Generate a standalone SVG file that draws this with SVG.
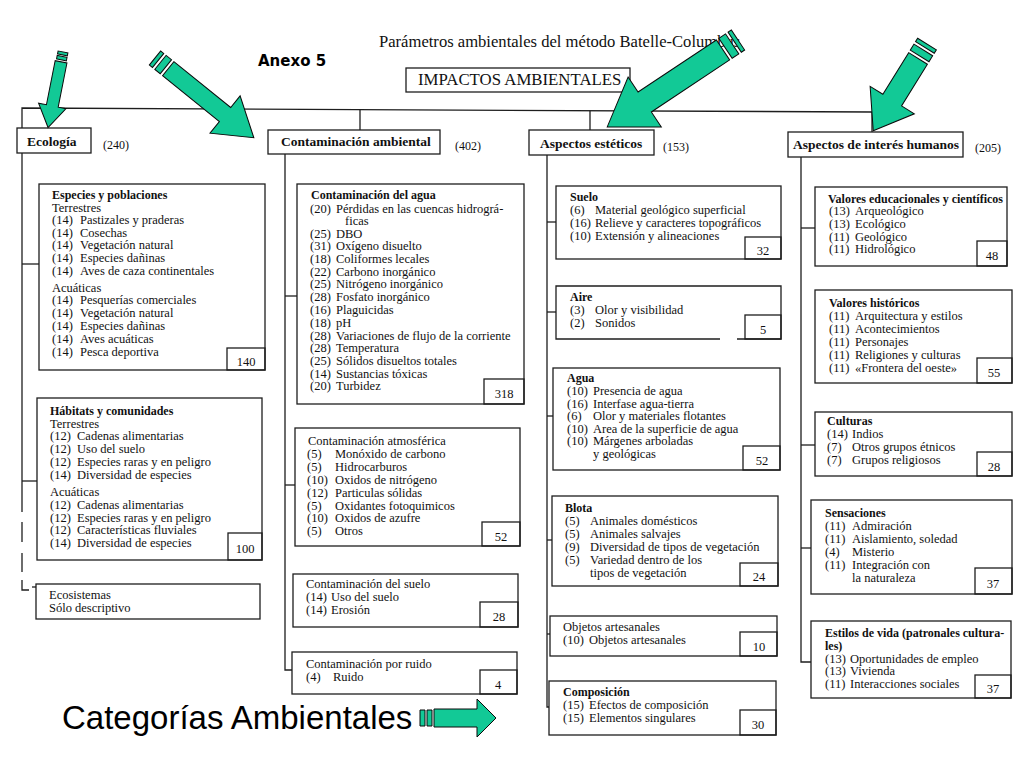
<svg xmlns="http://www.w3.org/2000/svg" width="1024" height="768" viewBox="0 0 1024 768">
<style>
.bg{fill:#fff}
.box{fill:#fff;stroke:#1e1e1e;stroke-width:1.3}
.nb{fill:none;stroke:#1e1e1e;stroke-width:1.3}
.ln{fill:none;stroke:#1e1e1e;stroke-width:1.3}
.t{font-family:"Liberation Serif","Times New Roman",serif;font-size:12.5px;fill:#111}
.b{font-weight:bold;font-size:12px}
.h{font-weight:bold;font-size:13.5px}
.n{text-anchor:middle}
.ar{fill:#12C996;stroke:#0a0a0a;stroke-width:1}
</style>
<rect class="bg" x="0" y="0" width="1024" height="768"/>

<g id="titles">
<text class="t" x="379" y="47" style="font-size:16.6px">Parámetros ambientales del método Batelle-Columbus</text>
<text x="258" y="66" style="font-family:'DejaVu Sans',Verdana,sans-serif;font-weight:bold;font-size:15px;fill:#000">Anexo 5</text>
<text x="62" y="729" style="font-family:'Liberation Sans',Arial,sans-serif;font-size:33px;fill:#000">Categorías Ambientales</text>
</g>

<g id="connectors">
<polyline class="ln" points="22,128 22,108 872,112 872,132"/>
<line class="ln" x1="360" y1="109.6" x2="360" y2="130"/>
<line class="ln" x1="590" y1="110.7" x2="590" y2="130"/>
<line class="ln" x1="22" y1="153" x2="22" y2="512"/>
<line class="ln" x1="22" y1="522" x2="22" y2="542"/>
<line class="ln" x1="22" y1="553" x2="22" y2="572"/>
<polyline class="ln" points="22,580 22,590 29,590"/>
<line class="ln" x1="32" y1="587" x2="37" y2="587"/>
<line class="ln" x1="22" y1="264" x2="39" y2="264"/>
<line class="ln" x1="22" y1="481" x2="37" y2="481"/>
<polyline class="ln" points="285,154 285,670 292,670"/>
<line class="ln" x1="285" y1="296" x2="297" y2="296"/>
<line class="ln" x1="285" y1="485" x2="295" y2="485"/>
<polyline class="ln" points="547,155 547,707 549,707"/>
<line class="ln" x1="547" y1="222" x2="556" y2="222"/>
<line class="ln" x1="547" y1="312" x2="556" y2="312"/>
<line class="ln" x1="547" y1="416" x2="553" y2="416"/>
<line class="ln" x1="547" y1="540" x2="552" y2="540"/>
<line class="ln" x1="547" y1="634" x2="550" y2="634"/>
<polyline class="ln" points="801,157 801,662 811,662"/>
<line class="ln" x1="801" y1="228" x2="815" y2="228"/>
<line class="ln" x1="801" y1="445" x2="815" y2="445"/>
<line class="ln" x1="801" y1="548" x2="811" y2="548"/>
</g>

<g id="impactos">
<rect class="box" x="406" y="68" width="224" height="24"/>
<text class="t" x="418" y="85" style="font-size:16.8px">IMPACTOS AMBIENTALES</text>
</g>

<g id="ecologia">
<rect class="box" x="17" y="128" width="74" height="25"/>
<text class="t h" x="27" y="146">Ecología</text>
<text class="t" x="103" y="149" style="font-size:12px">(240)</text>
</g>
<g id="contaminacion">
<rect class="box" x="268" y="130" width="172" height="24"/>
<text class="t h" x="281" y="146">Contaminación ambiental</text>
<text class="t" x="455" y="150" style="font-size:12px">(402)</text>
</g>
<g id="esteticos">
<rect class="box" x="529" y="130" width="125" height="25"/>
<text class="t h" x="540" y="148">Aspectos estéticos</text>
<text class="t" x="663" y="151" style="font-size:12px">(153)</text>
</g>
<g id="humanos">
<rect class="box" x="788" y="132" width="175" height="25"/>
<text class="t h" x="793" y="149">Aspectos de interés humanos</text>
<text class="t" x="975" y="152" style="font-size:12px">(205)</text>
</g>

<g id="especies">
<rect class="box" x="39" y="184" width="226" height="186"/>
<rect class="nb" x="227" y="348" width="38" height="22"/>
<text class="t n" x="246" y="366">140</text>
<text class="t b" x="52" y="199">Especies y poblaciones</text>
<text class="t" x="52" y="212">Terrestres</text>
<text class="t" y="224"><tspan x="52">(14)</tspan><tspan x="80">Pastizales y praderas</tspan></text>
<text class="t" y="237"><tspan x="52">(14)</tspan><tspan x="80">Cosechas</tspan></text>
<text class="t" y="249"><tspan x="52">(14)</tspan><tspan x="80">Vegetación natural</tspan></text>
<text class="t" y="262"><tspan x="52">(14)</tspan><tspan x="80">Especies dañinas</tspan></text>
<text class="t" y="275"><tspan x="52">(14)</tspan><tspan x="80">Aves de caza continentales</tspan></text>
<text class="t" x="52" y="292">Acuáticas</text>
<text class="t" y="304"><tspan x="52">(14)</tspan><tspan x="80">Pesquerías comerciales</tspan></text>
<text class="t" y="317"><tspan x="52">(14)</tspan><tspan x="80">Vegetación natural</tspan></text>
<text class="t" y="330"><tspan x="52">(14)</tspan><tspan x="80">Especies dañinas</tspan></text>
<text class="t" y="343"><tspan x="52">(14)</tspan><tspan x="80">Aves acuáticas</tspan></text>
<text class="t" y="356"><tspan x="52">(14)</tspan><tspan x="80">Pesca deportiva</tspan></text>
</g>

<g id="habitats">
<rect class="box" x="37" y="398" width="225" height="162"/>
<rect class="nb" x="228" y="533" width="34" height="27"/>
<text class="t n" x="245" y="553">100</text>
<text class="t b" x="50" y="415">Hábitats y comunidades</text>
<text class="t" x="50" y="428">Terrestres</text>
<text class="t" y="440"><tspan x="50">(12)</tspan><tspan x="77">Cadenas alimentarias</tspan></text>
<text class="t" y="453"><tspan x="50">(12)</tspan><tspan x="77">Uso del suelo</tspan></text>
<text class="t" y="466"><tspan x="50">(12)</tspan><tspan x="77">Especies raras y en peligro</tspan></text>
<text class="t" y="479"><tspan x="50">(14)</tspan><tspan x="77">Diversidad de especies</tspan></text>
<text class="t" x="50" y="496">Acuáticas</text>
<text class="t" y="509"><tspan x="50">(12)</tspan><tspan x="77">Cadenas alimentarias</tspan></text>
<text class="t" y="522"><tspan x="50">(12)</tspan><tspan x="77">Especies raras y en peligro</tspan></text>
<text class="t" y="534"><tspan x="50">(12)</tspan><tspan x="77">Características fluviales</tspan></text>
<text class="t" y="547"><tspan x="50">(14)</tspan><tspan x="77">Diversidad de especies</tspan></text>
</g>

<g id="ecosistemas">
<rect class="box" x="36" y="584" width="224" height="35"/>
<text class="t" x="49" y="599">Ecosistemas</text>
<text class="t" x="49" y="612">Sólo descriptivo</text>
</g>

<g id="agua-cont">
<rect class="box" x="297" y="184" width="227" height="220"/>
<rect class="nb" x="484" y="379" width="40" height="25"/>
<text class="t n" x="504" y="398">318</text>
<text class="t b" x="311" y="199">Contaminación del agua</text>
<text class="t" y="213"><tspan x="310">(20)</tspan><tspan x="336">Pérdidas en las cuencas hidrográ-</tspan></text>
<text class="t" x="345" y="225">ficas</text>
<text class="t" y="238"><tspan x="310">(25)</tspan><tspan x="336">DBO</tspan></text>
<text class="t" y="250"><tspan x="310">(31)</tspan><tspan x="336">Oxígeno disuelto</tspan></text>
<text class="t" y="263"><tspan x="310">(18)</tspan><tspan x="336">Coliformes lecales</tspan></text>
<text class="t" y="276"><tspan x="310">(22)</tspan><tspan x="336">Carbono inorgánico</tspan></text>
<text class="t" y="288"><tspan x="310">(25)</tspan><tspan x="336">Nitrógeno inorgánico</tspan></text>
<text class="t" y="301"><tspan x="310">(28)</tspan><tspan x="336">Fosfato inorgánico</tspan></text>
<text class="t" y="314"><tspan x="310">(16)</tspan><tspan x="336">Plaguicidas</tspan></text>
<text class="t" y="327"><tspan x="310">(18)</tspan><tspan x="336">pH</tspan></text>
<text class="t" y="340"><tspan x="310">(28)</tspan><tspan x="336">Variaciones de flujo de la corriente</tspan></text>
<text class="t" y="352"><tspan x="310">(28)</tspan><tspan x="336">Temperatura</tspan></text>
<text class="t" y="365"><tspan x="310">(25)</tspan><tspan x="336">Sólidos disueltos totales</tspan></text>
<text class="t" y="378"><tspan x="310">(14)</tspan><tspan x="336">Sustancias tóxicas</tspan></text>
<text class="t" y="390"><tspan x="310">(20)</tspan><tspan x="336">Turbidez</tspan></text>
</g>

<g id="atmosferica">
<rect class="box" x="295" y="428" width="225" height="118"/>
<rect class="nb" x="482" y="522" width="38" height="24"/>
<text class="t n" x="501" y="541">52</text>
<text class="t" x="308" y="445">Contaminación atmosférica</text>
<text class="t" y="458"><tspan x="307">(5)</tspan><tspan x="335">Monóxido de carbono</tspan></text>
<text class="t" y="471"><tspan x="307">(5)</tspan><tspan x="335">Hidrocarburos</tspan></text>
<text class="t" y="484"><tspan x="307">(10)</tspan><tspan x="335">Oxidos de nitrógeno</tspan></text>
<text class="t" y="497"><tspan x="307">(12)</tspan><tspan x="335">Particulas sólidas</tspan></text>
<text class="t" y="510"><tspan x="307">(5)</tspan><tspan x="335">Oxidantes fotoquimicos</tspan></text>
<text class="t" y="522"><tspan x="307">(10)</tspan><tspan x="335">Oxidos de azufre</tspan></text>
<text class="t" y="535"><tspan x="307">(5)</tspan><tspan x="335">Otros</tspan></text>
</g>

<g id="suelo-cont">
<rect class="box" x="293" y="574" width="225" height="53"/>
<rect class="nb" x="480" y="602" width="38" height="25"/>
<text class="t n" x="499" y="621">28</text>
<text class="t" x="306" y="588">Contaminación del suelo</text>
<text class="t" y="601"><tspan x="306">(14)</tspan><tspan x="331">Uso del suelo</tspan></text>
<text class="t" y="614"><tspan x="306">(14)</tspan><tspan x="331">Erosión</tspan></text>
</g>

<g id="ruido">
<rect class="box" x="292" y="652" width="225" height="42"/>
<rect class="nb" x="480" y="670" width="37" height="24"/>
<text class="t n" x="498" y="689">4</text>
<text class="t" x="306" y="668">Contaminación por ruido</text>
<text class="t" y="681"><tspan x="306">(4)</tspan><tspan x="333">Ruido</tspan></text>
</g>

<g id="suelo-est">
<rect class="box" x="556" y="186" width="225" height="73"/>
<rect class="nb" x="745" y="237" width="36" height="22"/>
<text class="t n" x="763" y="255">32</text>
<text class="t b" x="570" y="201">Suelo</text>
<text class="t" y="214"><tspan x="570">(6)</tspan><tspan x="595">Material geológico superficial</tspan></text>
<text class="t" y="227"><tspan x="570">(16)</tspan><tspan x="595">Relieve y caracteres topográficos</tspan></text>
<text class="t" y="240"><tspan x="570">(10)</tspan><tspan x="595">Extensión y alineaciones</tspan></text>
</g>

<g id="aire">
<polyline class="ln" points="720,339 556,339 556,286 781,286 781,339 737,339"/>
<rect class="nb" x="745" y="315" width="36" height="24"/>
<text class="t n" x="763" y="334">5</text>
<text class="t b" x="570" y="301">Aire</text>
<text class="t" y="314"><tspan x="570">(3)</tspan><tspan x="595">Olor y visibilidad</tspan></text>
<text class="t" y="327"><tspan x="570">(2)</tspan><tspan x="595">Sonidos</tspan></text>
</g>

<g id="agua-est">
<rect class="box" x="553" y="368" width="227" height="102"/>
<rect class="nb" x="743" y="446" width="37" height="24"/>
<text class="t n" x="762" y="465">52</text>
<text class="t b" x="567" y="382">Agua</text>
<text class="t" y="395"><tspan x="567">(10)</tspan><tspan x="593">Presencia de agua</tspan></text>
<text class="t" y="408"><tspan x="567">(16)</tspan><tspan x="593">Interfase agua-tierra</tspan></text>
<text class="t" y="420"><tspan x="567">(6)</tspan><tspan x="593">Olor y materiales flotantes</tspan></text>
<text class="t" y="433"><tspan x="567">(10)</tspan><tspan x="593">Area de la superficie de agua</tspan></text>
<text class="t" y="445"><tspan x="567">(10)</tspan><tspan x="593">Márgenes arboladas</tspan></text>
<text class="t" x="593" y="458">y geológicas</text>
</g>

<g id="biota">
<rect class="box" x="552" y="496" width="226" height="90"/>
<rect class="nb" x="740" y="563" width="38" height="23"/>
<text class="t n" x="759" y="581">24</text>
<text class="t b" x="565" y="512">Blota</text>
<text class="t" y="525"><tspan x="565">(5)</tspan><tspan x="590">Animales domésticos</tspan></text>
<text class="t" y="538"><tspan x="565">(5)</tspan><tspan x="590">Animales salvajes</tspan></text>
<text class="t" y="551"><tspan x="565">(9)</tspan><tspan x="590">Diversidad de tipos de vegetación</tspan></text>
<text class="t" y="564"><tspan x="565">(5)</tspan><tspan x="590">Variedad dentro de los</tspan></text>
<text class="t" x="590" y="577">tipos de vegetación</text>
</g>

<g id="objetos">
<rect class="box" x="550" y="616" width="227" height="40"/>
<rect class="nb" x="740" y="632" width="37" height="24"/>
<text class="t n" x="759" y="651">10</text>
<text class="t" x="563" y="631">Objetos artesanales</text>
<text class="t" y="644"><tspan x="563">(10)</tspan><tspan x="589">Objetos artesanales</tspan></text>
</g>

<g id="composicion">
<rect class="box" x="549" y="681" width="227" height="54"/>
<rect class="nb" x="740" y="710" width="36" height="25"/>
<text class="t n" x="758" y="729">30</text>
<text class="t b" x="563" y="696">Composición</text>
<text class="t" y="709"><tspan x="563">(15)</tspan><tspan x="589">Efectos de composición</tspan></text>
<text class="t" y="722"><tspan x="563">(15)</tspan><tspan x="589">Elementos singulares</tspan></text>
</g>

<g id="educacionales">
<rect class="box" x="815" y="187" width="192" height="79"/>
<rect class="nb" x="977" y="241" width="30" height="25"/>
<text class="t n" x="992" y="260">48</text>
<text class="t b" x="828" y="203">Valores educacionales y científicos</text>
<text class="t" y="215"><tspan x="829">(13)</tspan><tspan x="855">Arqueológico</tspan></text>
<text class="t" y="228"><tspan x="829">(13)</tspan><tspan x="855">Ecológico</tspan></text>
<text class="t" y="241"><tspan x="829">(11)</tspan><tspan x="855">Geológico</tspan></text>
<text class="t" y="253"><tspan x="829">(11)</tspan><tspan x="855">Hidrológico</tspan></text>
</g>

<g id="historicos">
<rect class="box" x="815" y="290" width="197" height="93"/>
<rect class="nb" x="977" y="358" width="35" height="25"/>
<text class="t n" x="994" y="377">55</text>
<text class="t b" x="829" y="307">Valores históricos</text>
<text class="t" y="320"><tspan x="829">(11)</tspan><tspan x="855">Arquitectura y estilos</tspan></text>
<text class="t" y="333"><tspan x="829">(11)</tspan><tspan x="855">Acontecimientos</tspan></text>
<text class="t" y="346"><tspan x="829">(11)</tspan><tspan x="855">Personajes</tspan></text>
<text class="t" y="359"><tspan x="829">(11)</tspan><tspan x="855">Religiones y culturas</tspan></text>
<text class="t" y="372"><tspan x="829">(11)</tspan><tspan x="855">«Frontera del oeste»</tspan></text>
</g>

<g id="culturas">
<rect class="box" x="815" y="412" width="197" height="64"/>
<rect class="nb" x="977" y="452" width="35" height="24"/>
<text class="t n" x="994" y="471">28</text>
<text class="t b" x="827" y="425">Culturas</text>
<text class="t" y="438"><tspan x="827">(14)</tspan><tspan x="852">Indios</tspan></text>
<text class="t" y="451"><tspan x="827">(7)</tspan><tspan x="852">Otros grupos étnicos</tspan></text>
<text class="t" y="464"><tspan x="827">(7)</tspan><tspan x="852">Grupos religiosos</tspan></text>
</g>

<g id="sensaciones">
<rect class="box" x="811" y="500" width="201" height="94"/>
<rect class="nb" x="975" y="568" width="37" height="26"/>
<text class="t n" x="993" y="588">37</text>
<text class="t b" x="825" y="517">Sensaciones</text>
<text class="t" y="530"><tspan x="825">(11)</tspan><tspan x="852">Admiración</tspan></text>
<text class="t" y="543"><tspan x="825">(11)</tspan><tspan x="852">Aislamiento, soledad</tspan></text>
<text class="t" y="556"><tspan x="825">(4)</tspan><tspan x="852">Misterio</tspan></text>
<text class="t" y="569"><tspan x="825">(11)</tspan><tspan x="852">Integración con</tspan></text>
<text class="t" x="852" y="582">la naturaleza</text>
</g>

<g id="estilos">
<rect class="box" x="811" y="621" width="200" height="77"/>
<rect class="nb" x="975" y="675" width="36" height="23"/>
<text class="t n" x="993" y="693">37</text>
<text class="t b" x="825" y="637">Estilos de vida (patronales cultura-</text>
<text class="t b" x="825" y="650">les)</text>
<text class="t" y="663"><tspan x="825">(13)</tspan><tspan x="850">Oportunidades de empleo</tspan></text>
<text class="t" y="675"><tspan x="825">(13)</tspan><tspan x="850">Vivienda</tspan></text>
<text class="t" y="688"><tspan x="825">(11)</tspan><tspan x="850">Interacciones sociales</tspan></text>
</g>

<g id="arrows">
<g transform="translate(63,52) rotate(101.2)">
<polygon class="ar" points="0,-5 3,-5 3,5 0,5"/>
<polygon class="ar" points="4.5,-5 8,-5 8,5 4.5,5"/>
<polygon class="ar" points="10,-6 55,-6 55,-14 77,0 55,14 55,6 10,6"/>
</g>
<g transform="translate(155,58) rotate(38.9)">
<polygon class="ar" points="0,-9 4,-9 4,9 0,9"/>
<polygon class="ar" points="7,-9 14,-9 14,9 7,9"/>
<polygon class="ar" points="17,-9 90,-9 90,-24 127,0 90,24 90,9 17,9"/>
</g>
<g transform="translate(738,40) rotate(146.4)">
<polygon class="ar" points="0,-12 4,-12 4,12 0,12"/>
<polygon class="ar" points="7,-12 15,-12 15,12 7,12"/>
<polygon class="ar" points="18,-12 112,-12 112,-30 157,0 112,30 112,12 18,12"/>
</g>
<g transform="translate(927,44) rotate(121.8)">
<polygon class="ar" points="0,-11 4,-11 4,11 0,11"/>
<polygon class="ar" points="7,-11 14,-11 14,11 7,11"/>
<polygon class="ar" points="17,-11 66,-11 66,-26 102,0 66,26 66,11 17,11"/>
</g>
<g transform="translate(420,718)">
<polygon class="ar" points="0,-8 5,-8 5,8 0,8"/>
<polygon class="ar" points="7,-8 12,-8 12,8 7,8"/>
<polygon class="ar" points="14,-9 57,-9 57,-19 76,0 57,19 57,9 14,9"/>
</g>
</g>
</svg>
